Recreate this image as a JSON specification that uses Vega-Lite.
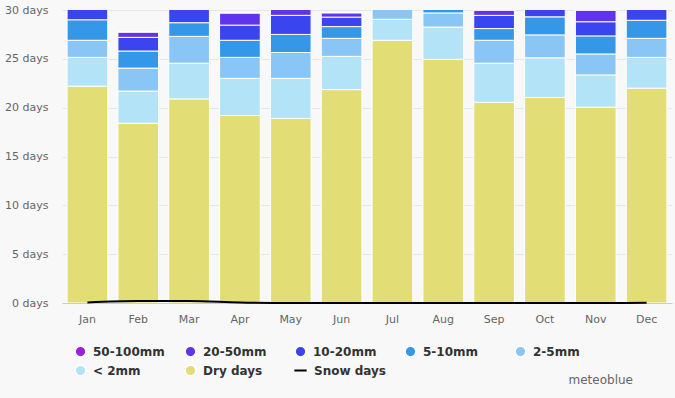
{
  "$schema": "https://vega.github.io/schema/vega-lite/v6.json",
  "width": 610,
  "height": 293,
  "autosize": {"type": "none"},
  "padding": {"left": 62, "top": 10, "right": 3, "bottom": 95},
  "background": "#f8f8f8",
  "config": {
    "view": {"stroke": null},
    "font": "DejaVu Sans",
    "axis": {"labelColor": "#666666", "labelFontSize": 11, "titleFontSize": 11},
    "legend": {"labelFontSize": 12, "labelFontWeight": "bold", "labelColor": "#333333", "padding": 0, "labelLimit": 200, "labelOffset": 6}
  },
  "title": {
    "text": "meteoblue",
    "orient": "bottom",
    "anchor": "end",
    "frame": "group",
    "fontSize": 12,
    "fontWeight": "normal",
    "color": "#666666",
    "offset": -4,
    "dx": -39
  },
  "datasets": {
    "precip": [
      {"month": "Jan", "cat": "Dry days", "days": 22.2}, {"month": "Jan", "cat": "< 2mm", "days": 2.95}, {"month": "Jan", "cat": "2-5mm", "days": 1.75}, {"month": "Jan", "cat": "5-10mm", "days": 2.1}, {"month": "Jan", "cat": "10-20mm", "days": 1.5}, {"month": "Jan", "cat": "20-50mm", "days": 0.4}, {"month": "Jan", "cat": "50-100mm", "days": 0.1},
      {"month": "Feb", "cat": "Dry days", "days": 18.4}, {"month": "Feb", "cat": "< 2mm", "days": 3.3}, {"month": "Feb", "cat": "2-5mm", "days": 2.35}, {"month": "Feb", "cat": "5-10mm", "days": 1.75}, {"month": "Feb", "cat": "10-20mm", "days": 1.4}, {"month": "Feb", "cat": "20-50mm", "days": 0.55}, {"month": "Feb", "cat": "50-100mm", "days": 0},
      {"month": "Mar", "cat": "Dry days", "days": 20.9}, {"month": "Mar", "cat": "< 2mm", "days": 3.65}, {"month": "Mar", "cat": "2-5mm", "days": 2.75}, {"month": "Mar", "cat": "5-10mm", "days": 1.4}, {"month": "Mar", "cat": "10-20mm", "days": 1.8}, {"month": "Mar", "cat": "20-50mm", "days": 0.4}, {"month": "Mar", "cat": "50-100mm", "days": 0.1},
      {"month": "Apr", "cat": "Dry days", "days": 19.2}, {"month": "Apr", "cat": "< 2mm", "days": 3.8}, {"month": "Apr", "cat": "2-5mm", "days": 2.15}, {"month": "Apr", "cat": "5-10mm", "days": 1.75}, {"month": "Apr", "cat": "10-20mm", "days": 1.55}, {"month": "Apr", "cat": "20-50mm", "days": 1.25}, {"month": "Apr", "cat": "50-100mm", "days": 0},
      {"month": "May", "cat": "Dry days", "days": 18.9}, {"month": "May", "cat": "< 2mm", "days": 4.1}, {"month": "May", "cat": "2-5mm", "days": 2.65}, {"month": "May", "cat": "5-10mm", "days": 1.85}, {"month": "May", "cat": "10-20mm", "days": 1.95}, {"month": "May", "cat": "20-50mm", "days": 1.2}, {"month": "May", "cat": "50-100mm", "days": 0.35},
      {"month": "Jun", "cat": "Dry days", "days": 21.85}, {"month": "Jun", "cat": "< 2mm", "days": 3.4}, {"month": "Jun", "cat": "2-5mm", "days": 1.85}, {"month": "Jun", "cat": "5-10mm", "days": 1.2}, {"month": "Jun", "cat": "10-20mm", "days": 0.97}, {"month": "Jun", "cat": "20-50mm", "days": 0.45}, {"month": "Jun", "cat": "50-100mm", "days": 0},
      {"month": "Jul", "cat": "Dry days", "days": 26.9}, {"month": "Jul", "cat": "< 2mm", "days": 2.15}, {"month": "Jul", "cat": "2-5mm", "days": 1.2}, {"month": "Jul", "cat": "5-10mm", "days": 0.5}, {"month": "Jul", "cat": "10-20mm", "days": 0.25}, {"month": "Jul", "cat": "20-50mm", "days": 0}, {"month": "Jul", "cat": "50-100mm", "days": 0},
      {"month": "Aug", "cat": "Dry days", "days": 24.95}, {"month": "Aug", "cat": "< 2mm", "days": 3.3}, {"month": "Aug", "cat": "2-5mm", "days": 1.45}, {"month": "Aug", "cat": "5-10mm", "days": 0.8}, {"month": "Aug", "cat": "10-20mm", "days": 0.4}, {"month": "Aug", "cat": "20-50mm", "days": 0.1}, {"month": "Aug", "cat": "50-100mm", "days": 0},
      {"month": "Sep", "cat": "Dry days", "days": 20.55}, {"month": "Sep", "cat": "< 2mm", "days": 4.0}, {"month": "Sep", "cat": "2-5mm", "days": 2.35}, {"month": "Sep", "cat": "5-10mm", "days": 1.2}, {"month": "Sep", "cat": "10-20mm", "days": 1.35}, {"month": "Sep", "cat": "20-50mm", "days": 0.55}, {"month": "Sep", "cat": "50-100mm", "days": 0},
      {"month": "Oct", "cat": "Dry days", "days": 21.05}, {"month": "Oct", "cat": "< 2mm", "days": 4.05}, {"month": "Oct", "cat": "2-5mm", "days": 2.35}, {"month": "Oct", "cat": "5-10mm", "days": 1.85}, {"month": "Oct", "cat": "10-20mm", "days": 1.3}, {"month": "Oct", "cat": "20-50mm", "days": 0.4}, {"month": "Oct", "cat": "50-100mm", "days": 0},
      {"month": "Nov", "cat": "Dry days", "days": 20.05}, {"month": "Nov", "cat": "< 2mm", "days": 3.3}, {"month": "Nov", "cat": "2-5mm", "days": 2.15}, {"month": "Nov", "cat": "5-10mm", "days": 1.85}, {"month": "Nov", "cat": "10-20mm", "days": 1.45}, {"month": "Nov", "cat": "20-50mm", "days": 1.2}, {"month": "Nov", "cat": "50-100mm", "days": 0},
      {"month": "Dec", "cat": "Dry days", "days": 22.0}, {"month": "Dec", "cat": "< 2mm", "days": 3.15}, {"month": "Dec", "cat": "2-5mm", "days": 1.95}, {"month": "Dec", "cat": "5-10mm", "days": 1.85}, {"month": "Dec", "cat": "10-20mm", "days": 1.6}, {"month": "Dec", "cat": "20-50mm", "days": 0.4}, {"month": "Dec", "cat": "50-100mm", "days": 0.05}
    ],
    "snow": [
      {"month": "Jan", "days": 0.05}, {"month": "Feb", "days": 0.2}, {"month": "Mar", "days": 0.2}, {"month": "Apr", "days": 0.05},
      {"month": "May", "days": 0}, {"month": "Jun", "days": 0}, {"month": "Jul", "days": 0}, {"month": "Aug", "days": 0},
      {"month": "Sep", "days": 0}, {"month": "Oct", "days": 0}, {"month": "Nov", "days": 0}, {"month": "Dec", "days": 0.02}
    ]
  },
  "layer": [
    {
      "data": {"name": "precip"},
      "transform": [
        {"calculate": "indexof(['Dry days','< 2mm','2-5mm','5-10mm','10-20mm','20-50mm','50-100mm'], datum.cat)", "as": "stackIndex"}
      ],
      "mark": {"type": "bar", "stroke": "white", "strokeWidth": 1, "clip": true},
      "encoding": {
        "x": {
          "field": "month", "type": "nominal",
          "sort": ["Jan","Feb","Mar","Apr","May","Jun","Jul","Aug","Sep","Oct","Nov","Dec"],
          "scale": {"paddingInner": 0.2, "paddingOuter": 0.1},
          "axis": {"title": null, "labelAngle": 0, "ticks": false, "labelPadding": 10, "domainColor": "#cccccc"}
        },
        "y": {
          "field": "days", "type": "quantitative", "stack": "zero",
          "scale": {"domain": [0, 30], "nice": false},
          "axis": {"title": null, "values": [0,5,10,15,20,25,30], "labelExpr": "datum.value + ' days'", "ticks": false, "domain": false, "gridColor": "#e6e6e6", "labelPadding": 14}
        },
        "order": {"field": "stackIndex", "type": "quantitative"},
        "color": {
          "field": "cat", "type": "nominal",
          "scale": {
            "domain": ["50-100mm","20-50mm","10-20mm","5-10mm","2-5mm","< 2mm","Dry days"],
            "range": ["#9b1fe2","#6034ef","#3a44ef","#3497e8","#8ac6f5","#b2e3f6","#e2dd75"]
          },
          "legend": {
            "title": null,
            "orient": "bottom",
            "direction": "horizontal",
            "columns": 5,
            "gridAlign": "all",
            "symbolType": "circle",
            "symbolSize": 115,
            "columnPadding": 7,
            "rowPadding": 2,
            "offset": 21,
            "symbolOffset": 12
          }
        }
      }
    },
    {
      "data": {"name": "snow"},
      "mark": {"type": "line", "strokeWidth": 2, "interpolate": "monotone"},
      "encoding": {
        "x": {"field": "month", "type": "nominal", "sort": ["Jan","Feb","Mar","Apr","May","Jun","Jul","Aug","Sep","Oct","Nov","Dec"]},
        "y": {"field": "days", "type": "quantitative"},
        "stroke": {
          "datum": "Snow days",
          "scale": {"range": ["#000000"]},
          "legend": {
            "title": null,
            "orient": "none",
            "legendX": 221,
            "legendY": 353,
            "symbolType": "stroke",
            "symbolSize": 150,
            "symbolStrokeWidth": 2,
            "symbolOffset": 10
          }
        }
      }
    }
  ]
}
